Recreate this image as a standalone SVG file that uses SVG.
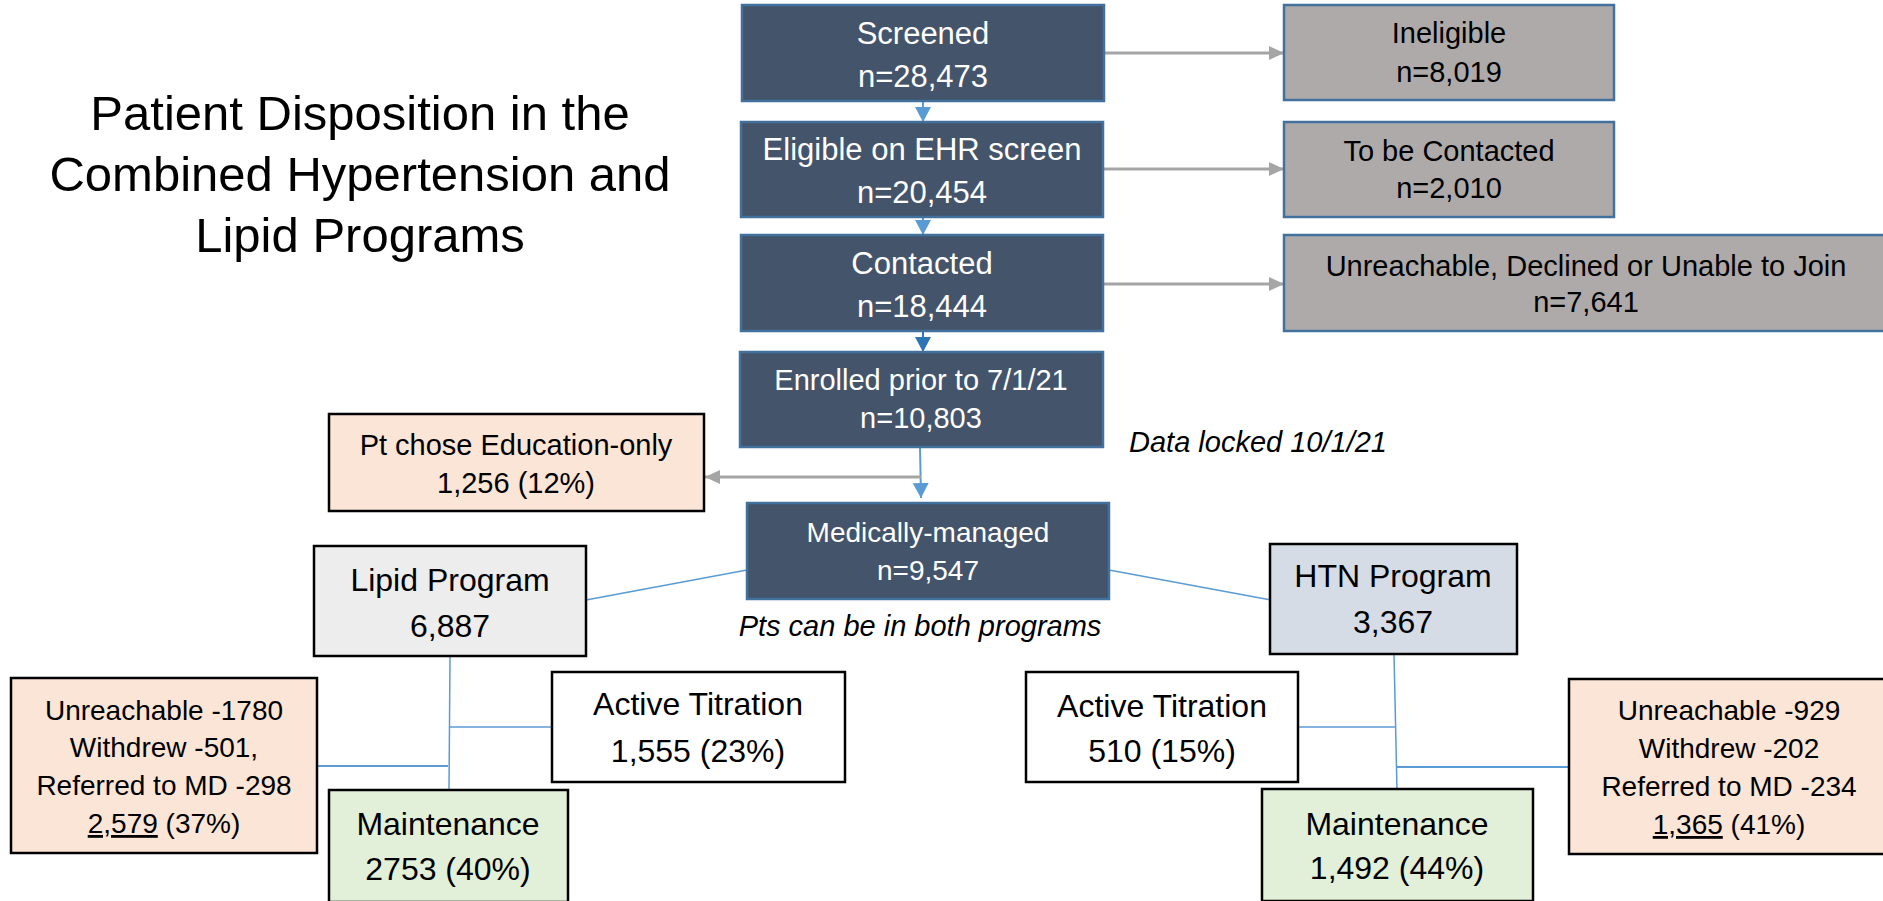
<svg xmlns="http://www.w3.org/2000/svg" width="1883" height="901" viewBox="0 0 1883 901">
<style>
text{font-family:"Liberation Sans",Arial,sans-serif;text-anchor:middle}
.dark rect{fill:#44546A;stroke:#41719C;stroke-width:2.5}
.dark text{fill:#fff}
.gray rect{fill:#AEAAAA;stroke:#41719C;stroke-width:2.5}
.gray text{fill:#000;font-size:29px}
.box rect{stroke:#000;stroke-width:2.5}
.box text{fill:#000}
.peach rect{fill:#FBE5D6}
.lipid rect{fill:#EDEDED}
.htn rect{fill:#D6DCE5}
.maint rect{fill:#E2F0D9}
.active rect{fill:#fff}
.note{font-style:italic;font-size:29px;fill:#000}
.c-gray{stroke:#A5A5A5;stroke-width:3;fill:none}
.c-blue{stroke:#5B9BD5;stroke-width:2;fill:none}
.c-thin{stroke:#5B9BD5;stroke-width:1.5;fill:none}
</style>
<defs>
<marker id="ag" markerUnits="userSpaceOnUse" markerWidth="16" markerHeight="16" refX="15" refY="7" orient="auto"><path d="M0,0 L15,7 L0,14 z" fill="#A5A5A5"/></marker>
<marker id="ab" markerUnits="userSpaceOnUse" markerWidth="17" markerHeight="17" refX="15" refY="8" orient="auto"><path d="M0,0 L15,8 L0,16 z" fill="#5B9BD5"/></marker>
<marker id="ab2" markerUnits="userSpaceOnUse" markerWidth="17" markerHeight="17" refX="15" refY="8" orient="auto"><path d="M0,0 L15,8 L0,16 z" fill="#2E75B6"/></marker>
</defs>
<rect x="0" y="0" width="1883" height="901" fill="#fff"/>

<g id="title">
<text x="360" y="130" font-size="49">Patient Disposition in the</text>
<text x="360" y="191" font-size="49">Combined Hypertension and</text>
<text x="360" y="252" font-size="49">Lipid Programs</text>
</g>

<g id="connectors">
<line class="c-blue" x1="923" y1="101" x2="923" y2="122" marker-end="url(#ab)"/>
<line class="c-blue" x1="923" y1="217" x2="923" y2="235" marker-end="url(#ab)"/>
<line class="c-blue" x1="923" y1="331" x2="923" y2="352" stroke="#2E75B6" style="stroke:#2E75B6" marker-end="url(#ab2)"/>
<line class="c-blue" x1="920" y1="447" x2="921" y2="498" marker-end="url(#ab)"/>
<line class="c-gray" x1="1104" y1="53" x2="1284" y2="53" marker-end="url(#ag)"/>
<line class="c-gray" x1="1103" y1="169" x2="1284" y2="169" marker-end="url(#ag)"/>
<line class="c-gray" x1="1103" y1="284" x2="1284" y2="284" marker-end="url(#ag)"/>
<line class="c-gray" x1="921" y1="477" x2="705" y2="477" marker-end="url(#ag)"/>
<line class="c-thin" x1="747" y1="570" x2="586" y2="600"/>
<line class="c-thin" x1="1109" y1="570" x2="1271" y2="600"/>
<line class="c-thin" x1="450" y1="656" x2="449" y2="791"/>
<line class="c-thin" x1="449" y1="727" x2="552" y2="727"/>
<line class="c-blue" x1="317" y1="766" x2="448" y2="766"/>
<line class="c-thin" x1="1394" y1="654" x2="1397" y2="790"/>
<line class="c-thin" x1="1298" y1="727" x2="1395" y2="727"/>
<line class="c-blue" x1="1397" y1="767" x2="1569" y2="767"/>
</g>

<g id="screened" class="dark">
<rect x="742" y="5" width="362" height="96"/>
<text x="923" y="44" font-size="31">Screened</text>
<text x="923" y="87" font-size="31">n=28,473</text>
</g>
<g id="eligible" class="dark">
<rect x="741" y="122" width="362" height="95"/>
<text x="922" y="160" font-size="31">Eligible on EHR screen</text>
<text x="922" y="203" font-size="31">n=20,454</text>
</g>
<g id="contacted" class="dark">
<rect x="741" y="235" width="362" height="96"/>
<text x="922" y="274" font-size="31">Contacted</text>
<text x="922" y="317" font-size="31">n=18,444</text>
</g>
<g id="enrolled" class="dark">
<rect x="740" y="352" width="363" height="95"/>
<text x="921" y="390" font-size="29">Enrolled prior to 7/1/21</text>
<text x="921" y="428" font-size="29">n=10,803</text>
</g>
<g id="medically" class="dark">
<rect x="747" y="503" width="362" height="96"/>
<text x="928" y="542" font-size="28">Medically-managed</text>
<text x="928" y="580" font-size="28">n=9,547</text>
</g>

<g id="ineligible" class="gray">
<rect x="1284" y="5" width="330" height="95"/>
<text x="1449" y="43">Ineligible</text>
<text x="1449" y="82">n=8,019</text>
</g>
<g id="tobecontacted" class="gray">
<rect x="1284" y="122" width="330" height="95"/>
<text x="1449" y="161">To be Contacted</text>
<text x="1449" y="198">n=2,010</text>
</g>
<g id="unreachable" class="gray">
<rect x="1284" y="235" width="606" height="96"/>
<text x="1586" y="276">Unreachable, Declined or Unable to Join</text>
<text x="1586" y="312">n=7,641</text>
</g>

<g id="datalocked"><text class="note" x="1129" y="452" style="text-anchor:start">Data locked 10/1/21</text></g>
<g id="bothprograms"><text class="note" x="920" y="636">Pts can be in both programs</text></g>

<g id="educationonly" class="box peach">
<rect x="329" y="414" width="375" height="97"/>
<text x="516" y="455" font-size="29">Pt chose Education-only</text>
<text x="516" y="493" font-size="29">1,256 (12%)</text>
</g>

<g id="lipid" class="box lipid">
<rect x="314" y="546" width="272" height="110"/>
<text x="450" y="591" font-size="32">Lipid Program</text>
<text x="450" y="637" font-size="32">6,887</text>
</g>
<g id="htn" class="box htn">
<rect x="1270" y="544" width="247" height="110"/>
<text x="1393" y="587" font-size="32">HTN Program</text>
<text x="1393" y="633" font-size="32">3,367</text>
</g>

<g id="lipid-active" class="box active">
<rect x="552" y="672" width="293" height="110"/>
<text x="698" y="715" font-size="32">Active Titration</text>
<text x="698" y="762" font-size="32">1,555 (23%)</text>
</g>
<g id="lipid-maint" class="box maint">
<rect x="329" y="790" width="239" height="112"/>
<text x="448" y="835" font-size="32">Maintenance</text>
<text x="448" y="880" font-size="32">2753 (40%)</text>
</g>
<g id="lipid-lost" class="box peach">
<rect x="11" y="678" width="306" height="175"/>
<text x="164" y="720" font-size="28">Unreachable -1780</text>
<text x="164" y="757" font-size="28">Withdrew -501,</text>
<text x="164" y="795" font-size="28">Referred to MD -298</text>
<text x="164" y="833" font-size="28"><tspan text-decoration="underline">2,579</tspan> (37%)</text>
</g>

<g id="htn-active" class="box active">
<rect x="1026" y="672" width="272" height="110"/>
<text x="1162" y="717" font-size="32">Active Titration</text>
<text x="1162" y="762" font-size="32">510 (15%)</text>
</g>
<g id="htn-maint" class="box maint">
<rect x="1262" y="789" width="271" height="112"/>
<text x="1397" y="835" font-size="32">Maintenance</text>
<text x="1397" y="879" font-size="32">1,492 (44%)</text>
</g>
<g id="htn-lost" class="box peach">
<rect x="1569" y="679" width="320" height="175"/>
<text x="1729" y="720" font-size="28">Unreachable -929</text>
<text x="1729" y="758" font-size="28">Withdrew -202</text>
<text x="1729" y="796" font-size="28">Referred to MD -234</text>
<text x="1729" y="834" font-size="28"><tspan text-decoration="underline">1,365</tspan> (41%)</text>
</g>
</svg>
